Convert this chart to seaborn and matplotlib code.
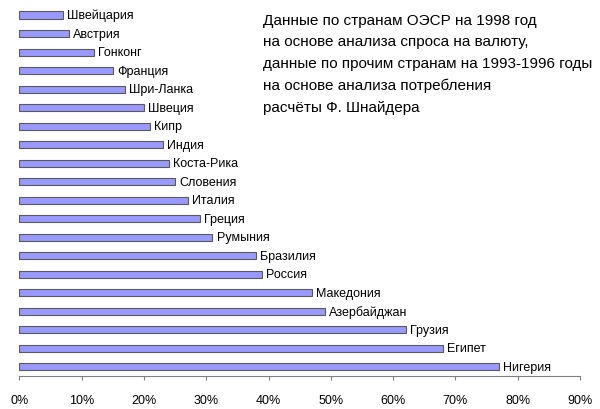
import matplotlib
matplotlib.use("Agg")
import matplotlib.pyplot as plt
import seaborn as sns
import pandas as pd
from matplotlib.ticker import PercentFormatter

countries = ["Швейцария", "Австрия", "Гонконг", "Франция", "Шри-Ланка", "Швеция",
             "Кипр", "Индия", "Коста-Рика", "Словения", "Италия", "Греция", "Румыния",
             "Бразилия", "Россия", "Македония", "Азербайджан", "Грузия", "Египет", "Нигерия"]
values = [7, 8, 12, 15, 17, 20, 21, 23, 24, 25, 27, 29, 31, 38, 39, 47, 49, 62, 68, 77]
xticks = [0, 10, 20, 30, 40, 50, 60, 70, 80, 90]
note = ("Данные по странам ОЭСР на 1998 год\n"
        "на основе анализа спроса на валюту,\n"
        "данные по прочим странам на 1993-1996 годы\n"
        "на основе анализа потребления\n"
        "расчёты Ф. Шнайдера")

sns.set_style("white")
plt.rcParams['font.family'] = ['Liberation Sans', 'DejaVu Sans']

df = pd.DataFrame({"country": countries, "value": values})

fig = plt.figure(figsize=(6, 4.1), dpi=100)
ax = fig.add_axes([19.3/600, 1-377/410, (580-19.3)/600, (377-6.75)/410])
sns.barplot(data=df, y="country", x="value", orient="h", color="#9999FF",
            saturation=1, edgecolor="#5a5a5a", linewidth=0.8, width=0.38, ax=ax)

ax.bar_label(ax.containers[0], labels=countries, padding=3, fontsize=9, color="black")

ax.set_xlim(0, 90)
ax.set_ylim(19.5, -0.5)
ax.set_xticks(xticks)
ax.xaxis.set_major_formatter(PercentFormatter(xmax=100, decimals=0))
ax.set_yticks([])
ax.set_xlabel("")
ax.set_ylabel("")
for s in ["top", "right", "left"]:
    ax.spines[s].set_visible(False)
ax.spines["bottom"].set_color("#808080")
ax.spines["bottom"].set_linewidth(0.8)
ax.tick_params(axis="x", bottom=True, direction="out", length=3, width=0.8,
               color="#808080", labelsize=9, pad=10, labelcolor="black")

fig.text(262.7/600, 1-14/410, note, ha="left", va="top", fontsize=11,
         linespacing=1.68, color="black")

fig.savefig("out.png", dpi=100)
